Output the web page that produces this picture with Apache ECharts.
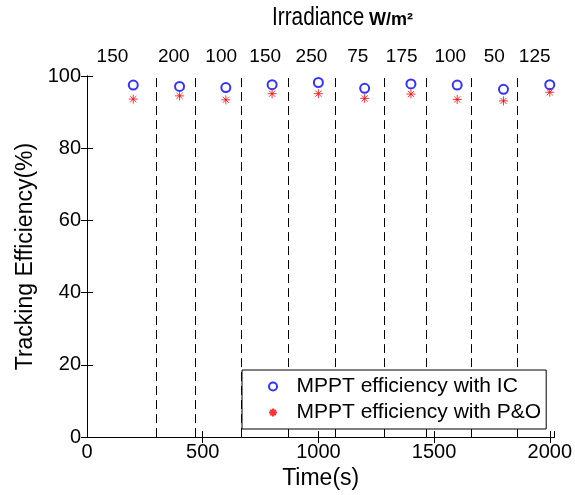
<!DOCTYPE html>
<html>
<head>
<meta charset="utf-8">
<script src="https://cdn.jsdelivr.net/npm/echarts@6/dist/echarts.min.js"></script>
<style>
  html, body { margin: 0; padding: 0; background: #fff; }
  #chart { width: 575px; height: 495px; }
</style>
</head>
<body>
<div id="chart"></div>
<script>
// sample times (s)
const times = [200, 400, 600, 800, 1000, 1200, 1400, 1600, 1800, 2000]
// tracking efficiency (%)
const icEff = [97.5, 97.1, 96.8, 97.6, 98.2, 96.6, 97.8, 97.5, 96.3, 97.6]
const poEff = [93.6, 94.5, 93.4, 95.1, 95.1, 93.8, 95.0, 93.5, 93.1, 95.5]
// irradiance step boundaries (s)
const stepTimes = [300, 467, 665, 870, 1075, 1285, 1465, 1660, 1860]
// irradiance labels above the plot and where they sit on the time axis
const irradiance = ['150', '200', '100', '150', '250', '75', '175', '100', '50', '125']
const irradiancePos = [110, 375, 580, 770, 970, 1170, 1360, 1570, 1760, 1935]

const font = 'Liberation Sans, Arial, sans-serif'
const starPath = 'path://M5,0L5,10M0,5L10,5M1.6,1.6L8.4,8.4M1.6,8.4L8.4,1.6'

const chart = echarts.init(document.getElementById('chart'))

const option = {
  animation: false,
  backgroundColor: '#fff',
  textStyle: { fontFamily: font, color: '#000' },
  // top title, "Irradiance" is a narrow face in the original
  graphic: [
    {
      type: 'text',
      x: 272,
      y: 6,
      scaleX: 0.83,
      style: { text: 'Irradiance', font: '25px Liberation Sans, Arial, sans-serif', fill: '#000' }
    },
    {
      type: 'text',
      x: 369,
      y: 11,
      style: { text: 'W/m²', font: 'bold 18px Liberation Sans, Arial, sans-serif', fill: '#000' }
    }
  ],
  grid: { left: 87, right: 17, top: 76, bottom: 53 },
  legend: {
    orient: 'vertical',
    left: 242,
    top: 370,
    z: 100,
    padding: [6, 5, 6, 26],
    itemWidth: 37,
    itemHeight: 8,
    itemGap: 5,
    borderColor: '#000',
    borderWidth: 1,
    backgroundColor: '#fff',
    selectedMode: false,
    textStyle: { fontFamily: font, fontSize: 21, color: '#000' },
    data: ['MPPT efficiency with IC', 'MPPT efficiency with P&O']
  },
  xAxis: [
    {
      type: 'value',
      position: 'bottom',
      min: 0,
      max: 2020,
      interval: 500,
      name: 'Time(s)',
      nameLocation: 'middle',
      nameGap: 28,
      nameTextStyle: { fontFamily: font, fontSize: 23, color: '#000' },
      axisLine: { lineStyle: { color: '#000' } },
      axisTick: { inside: true, length: 6, lineStyle: { color: '#000' } },
      axisLabel: {
        fontFamily: font, fontSize: 20, color: '#000', margin: 5,
        formatter: v => (v % 500 === 0 ? String(v) : '')
      },
      splitLine: { show: false }
    },
    {
      type: 'value',
      position: 'top',
      min: 0,
      max: 2020,
      axisLine: { lineStyle: { color: '#000' } },
      axisTick: { inside: true, length: 6, customValues: [500, 1000, 1500, 2000], lineStyle: { color: '#000' } },
      axisLabel: {
        fontFamily: font, fontSize: 19, color: '#000', margin: 10,
        customValues: irradiancePos,
        formatter: v => irradiance[irradiancePos.indexOf(v)] || ''
      },
      splitLine: { show: false }
    }
  ],
  yAxis: [
    {
      type: 'value',
      position: 'left',
      min: 0,
      max: 100,
      interval: 20,
      name: 'Tracking Efficiency(%)',
      nameLocation: 'middle',
      nameGap: 45,
      nameTextStyle: { fontFamily: font, fontSize: 23, color: '#000' },
      axisLine: { show: true, lineStyle: { color: '#000' } },
      axisTick: { show: true, inside: true, length: 6, lineStyle: { color: '#000' } },
      axisLabel: { fontFamily: font, fontSize: 20, color: '#000', margin: 6 },
      splitLine: { show: false }
    },
    {
      type: 'value',
      position: 'right',
      min: 0,
      max: 100,
      interval: 20,
      axisLine: { show: true, lineStyle: { color: '#000' } },
      axisTick: { show: true, inside: true, length: 6, lineStyle: { color: '#000' } },
      axisLabel: { show: false },
      splitLine: { show: false }
    }
  ],
  series: [
    {
      name: 'MPPT efficiency with IC',
      type: 'scatter',
      symbol: 'emptyCircle',
      symbolSize: 9,
      itemStyle: { color: '#0000ff', borderColor: '#0000ff', borderWidth: 1 },
      data: times.map((t, i) => [t, icEff[i]]),
      markLine: {
        silent: true,
        symbol: ['none', 'none'],
        label: { show: false },
        lineStyle: { color: '#000', type: [9, 5], width: 1 },
        data: stepTimes.map(t => ({ xAxis: t }))
      }
    },
    {
      name: 'MPPT efficiency with P&O',
      type: 'scatter',
      symbol: starPath,
      symbolSize: 9,
      itemStyle: { color: '#ff0000', borderColor: '#ff0000', borderWidth: 1 },
      data: times.map((t, i) => [t, poEff[i]])
    }
  ]
}

chart.setOption(option)
</script>
</body>
</html>
